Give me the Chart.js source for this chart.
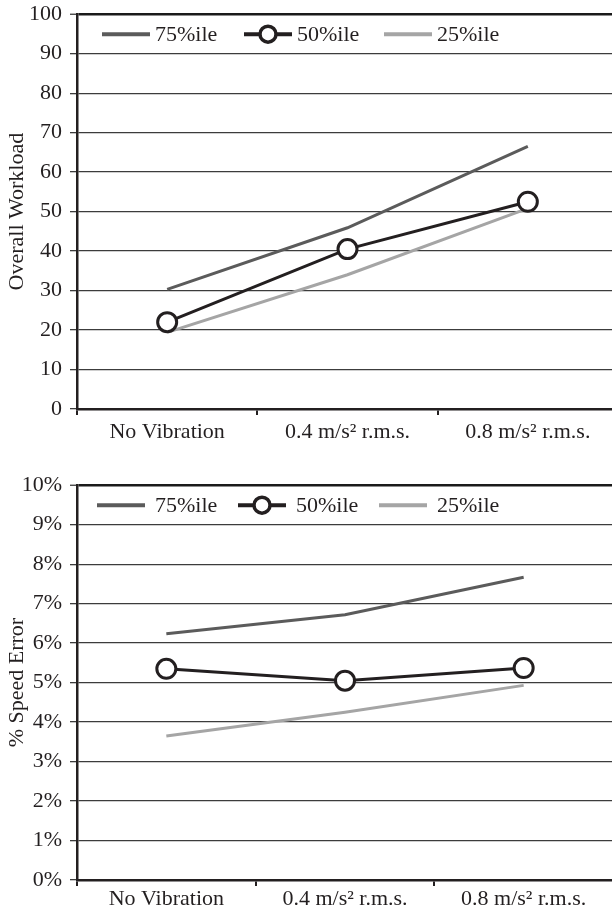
<!DOCTYPE html>
<html><head><meta charset="utf-8">
<script src="https://cdn.jsdelivr.net/npm/chart.js@4/dist/chart.umd.min.js"></script>
<style>
html,body{margin:0;padding:0;background:#fff;overflow:hidden;width:612px;height:909px;position:relative;}
#wrap{position:absolute;left:0;top:0;width:660px;height:909px;}
canvas{position:absolute;left:0;}
#c1{top:-7px;width:622px;height:452px;}
#c2{top:464px;width:617px;height:452px;}
</style></head><body>
<div id="wrap">
<canvas id="c1" width="622" height="452"></canvas>
<canvas id="c2" width="617" height="452"></canvas>
</div>
<script>
// ---- data ----
const categories = ['No Vibration', '0.4 m/s\u00B2 r.m.s.', '0.8 m/s\u00B2 r.m.s.'];
const seriesNames = ['75%ile', '50%ile', '25%ile'];
const workload75 = [30.3, 45.9, 66.5];
const workload50 = [22.0, 40.5, 52.5];
const workload25 = [19.4, 34.0, 50.8];
const speedError75 = [6.24, 6.72, 7.67];
const speedError50 = [5.35, 5.05, 5.37];
const speedError25 = [3.65, 4.25, 4.93];
const workloadTicks = [0, 10, 20, 30, 40, 50, 60, 70, 80, 90, 100];
const speedErrorTicks = [0, 1, 2, 3, 4, 5, 6, 7, 8, 9, 10];

// ---- style ----
const FONT = "'Liberation Serif', 'DejaVu Serif', serif";
const FS = 22;
const TXT = '#231f20';
const colors = ['#5b5b5b', '#231f20', '#a5a5a5'];

const insideLegend = {
  id: 'insideLegend',
  afterDraw(chart, args, opts) {
    const {ctx, chartArea} = chart;
    const y = chartArea.top + opts.dy;
    ctx.save();
    chart.data.datasets.forEach((ds, i) => {
      const x0 = chartArea.left + opts.xs[i];
      ctx.beginPath();
      ctx.moveTo(x0, y);
      ctx.lineTo(x0 + opts.len, y);
      ctx.strokeStyle = ds.borderColor;
      ctx.lineWidth = 4;
      ctx.lineCap = 'butt';
      ctx.stroke();
      if (ds.pointRadius > 0) {
        ctx.beginPath();
        ctx.arc(x0 + opts.len / 2, y, 8, 0, Math.PI * 2);
        ctx.fillStyle = '#fff';
        ctx.fill();
        ctx.lineWidth = 3.5;
        ctx.stroke();
      }
      ctx.fillStyle = TXT;
      ctx.font = FS + 'px ' + FONT;
      ctx.textBaseline = 'middle';
      ctx.textAlign = 'left';
      ctx.fillText(ds.label, x0 + opts.len + opts.gap, y + 1);
    });
    ctx.restore();
  }
};

function makeChart(id, s75, s50, s25, tickValues, title, suffix, legendOpts, padTop, padRight, xPad) {
  const mk = (i, data, marker, order) => ({
    label: seriesNames[i],
    data: data,
    borderColor: colors[i],
    backgroundColor: '#ffffff',
    borderWidth: 3,
    tension: 0,
    fill: false,
    pointRadius: marker ? 9.5 : 0,
    pointHoverRadius: marker ? 9.5 : 0,
    pointBorderWidth: 3,
    pointBackgroundColor: '#ffffff',
    pointBorderColor: colors[i],
    clip: false,
    order: order
  });
  const maxV = tickValues[tickValues.length - 1];
  return new Chart(document.getElementById(id), {
    type: 'line',
    data: {
      labels: categories,
      datasets: [mk(0, s75, false, 1), mk(1, s50, true, 0), mk(2, s25, false, 2)]
    },
    plugins: [insideLegend],
    options: {
      responsive: false,
      animation: false,
      devicePixelRatio: 1,
      layout: {autoPadding: false, padding: {top: padTop, right: padRight, bottom: 0, left: 0}},
      plugins: {
        legend: {display: false},
        tooltip: {enabled: false},
        insideLegend: legendOpts
      },
      scales: {
        x: {
          type: 'category',
          offset: true,
          grid: {
            offset: true,
            drawOnChartArea: false,
            drawTicks: true,
            tickLength: 6,
            color: TXT,
            lineWidth: 2
          },
          border: {display: true, color: TXT, width: 2.5},
          ticks: {color: TXT, font: {family: FONT, size: FS}, padding: xPad, maxRotation: 0, autoSkip: false},
          afterFit: s => { s.height = 36; s.paddingLeft = 0; s.paddingRight = 0; }
        },
        y: {
          min: 0,
          max: maxV,
          afterBuildTicks: s => { s.ticks = tickValues.map(v => ({value: v})); },
          grid: {
            drawTicks: true,
            tickLength: 7,
            color: c => (c.tick && c.tick.value === maxV) ? '#1a1a1a' : '#3c3c3c',
            lineWidth: c => (c.tick && c.tick.value === maxV) ? 2.5 : 1.3,
            tickColor: '#3c3c3c',
            tickWidth: 1.3
          },
          border: {display: true, color: TXT, width: 2.5},
          ticks: {
            color: TXT,
            font: {family: FONT, size: FS},
            padding: 8,
            callback: v => v + suffix
          },
          title: {
            display: true,
            text: title,
            color: TXT,
            font: {family: FONT, size: FS},
            padding: {top: 4, bottom: 0}
          },
          afterFit: s => { s.width = 77; }
        }
      }
    }
  });
}

makeChart('c1', workload75, workload50, workload25, workloadTicks, 'Overall Workload', '',
  {xs: [25, 167, 307], len: 48, gap: 5, dy: 20}, 13, 4, 4);
makeChart('c2', speedError75, speedError50, speedError25, speedErrorTicks, '% Speed Error', '%',
  {xs: [20, 161, 302], len: 48, gap: 10, dy: 20}, 13, 4, 0);
</script>
</body></html>
